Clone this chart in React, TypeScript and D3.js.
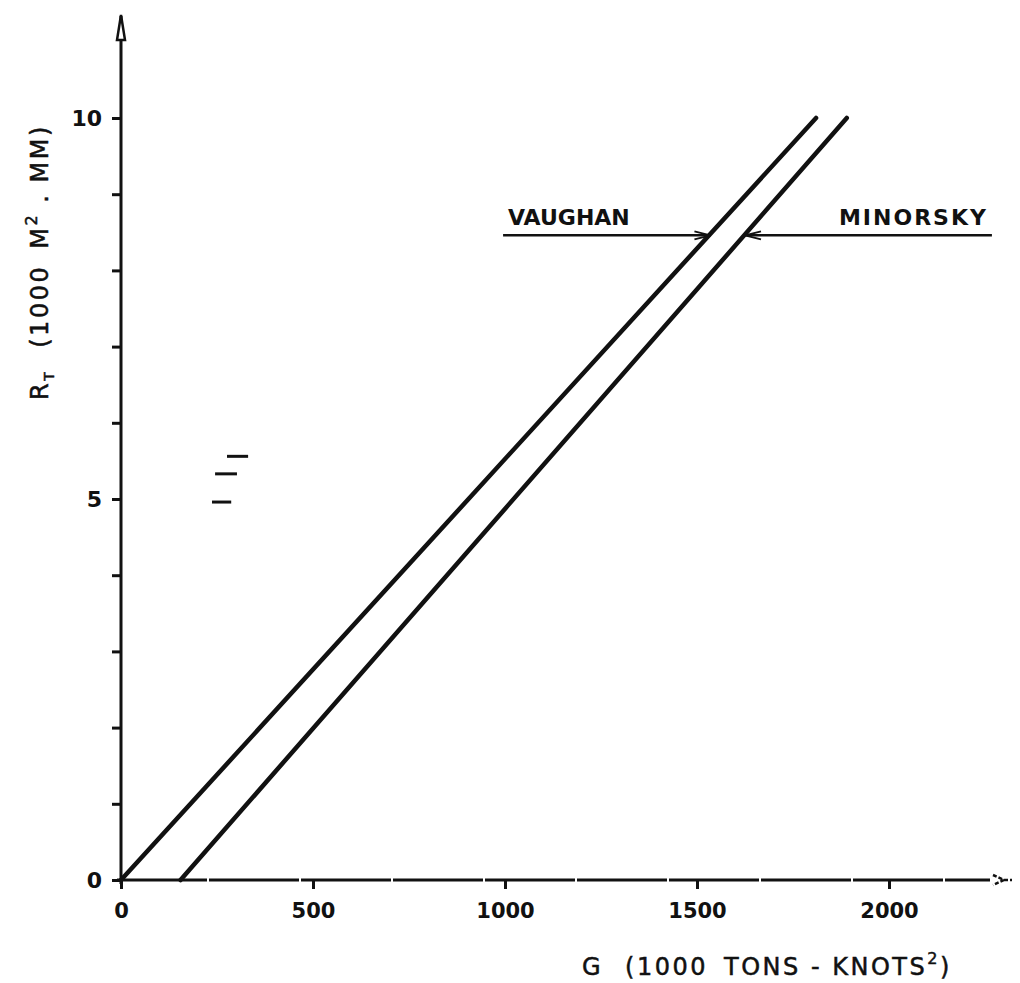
import React, { useEffect, useRef } from 'react';
import * as d3 from 'd3';

// tick values
const xTicks = [0, 500, 1000, 1500, 2000];
const yTicks = [0, 1, 2, 3, 4, 5, 6, 7, 8, 9, 10];
const yLabelled = [0, 5, 10];

// the two straight lines (G in 1000 tons-knots^2, R_T in 1000 m^2.mm)
const vaughanG = [0, 1810];
const vaughanR = [0, 10];
const minorskyG = [155, 1890];
const minorskyR = [0, 10];

// pointer lines for the labels
const pointerR = 8.46;
const vaughanPointer = [995, 1535];
const minorskyPointer = [1625, 2268];

// small stray marks near R = 5
const strayMarks = [
  { g0: 276, g1: 331, r: 5.56 },
  { g0: 245, g1: 302, r: 5.33 },
  { g0: 237, g1: 287, r: 4.96 },
];

const INK = '#111';
const FONT = '"DejaVu Sans", sans-serif';

const App: React.FC = () => {
  const svgRef = useRef<SVGSVGElement>(null);

  useEffect(() => {
    const svg = d3.select(svgRef.current);
    svg.selectAll('*').remove();

    const x = d3.scaleLinear().domain([0, 2000]).range([121, 889]);
    const y = d3.scaleLinear().domain([0, 10]).range([880, 118]);

    // x axis
    const xAxis = svg
      .append('g')
      .attr('transform', `translate(0, ${y(0)})`)
      .call(d3.axisBottom(x).tickValues(xTicks).tickSize(9).tickPadding(14).tickFormat(d3.format('d')));
    xAxis.select('.domain').remove();
    xAxis.selectAll('line').attr('stroke', INK).attr('stroke-width', 3);
    xAxis
      .selectAll('text')
      .attr('fill', INK)
      .attr('font-family', FONT)
      .attr('font-weight', 'bold')
      .attr('font-size', 21);

    // y axis
    const yAxis = svg
      .append('g')
      .attr('transform', `translate(${x(0)}, 0)`)
      .call(
        d3
          .axisLeft(y)
          .tickValues(yTicks)
          .tickSize(9)
          .tickPadding(10)
          .tickFormat((d) => (yLabelled.includes(d as number) ? String(d) : ''))
      );
    yAxis.select('.domain').remove();
    yAxis.selectAll('line').attr('stroke', INK).attr('stroke-width', 3);
    yAxis
      .selectAll('text')
      .attr('fill', INK)
      .attr('font-family', FONT)
      .attr('font-weight', 'bold')
      .attr('font-size', 22);

    // axis lines with arrows
    svg
      .append('line')
      .attr('x1', x(0))
      .attr('x2', x(0))
      .attr('y1', y(0) + 4)
      .attr('y2', 16)
      .attr('stroke', INK)
      .attr('stroke-width', 3);
    svg
      .append('path')
      .attr('d', `M${x(0) - 4},40 L${x(0)},15 L${x(0) + 4},40 Z`)
      .attr('fill', '#fff')
      .attr('stroke', INK)
      .attr('stroke-width', 2.5);

    svg
      .append('line')
      .attr('x1', x(0) - 4)
      .attr('x2', 990)
      .attr('y1', y(0))
      .attr('y2', y(0))
      .attr('stroke', INK)
      .attr('stroke-width', 3)
      .attr('stroke-dasharray', '90 2');
    svg
      .append('path')
      .attr('d', `M993,${y(0) - 5} L1004,${y(0)} L993,${y(0) + 5} M1004,${y(0)} L1012,${y(0)}`)
      .attr('fill', 'none')
      .attr('stroke', INK)
      .attr('stroke-width', 2.5)
      .attr('stroke-dasharray', '4 2');

    // the two lines
    const line = d3
      .line<[number, number]>()
      .x((d) => x(d[0]))
      .y((d) => y(d[1]));

    const series = [
      vaughanG.map((g, i) => [g, vaughanR[i]] as [number, number]),
      minorskyG.map((g, i) => [g, minorskyR[i]] as [number, number]),
    ];
    svg
      .selectAll('path.series')
      .data(series)
      .enter()
      .append('path')
      .attr('class', 'series')
      .attr('d', line)
      .attr('fill', 'none')
      .attr('stroke', INK)
      .attr('stroke-width', 4.5)
      .attr('stroke-linecap', 'round');

    // pointers
    const py = y(pointerR);
    svg
      .append('line')
      .attr('x1', x(vaughanPointer[0]))
      .attr('x2', x(vaughanPointer[1]))
      .attr('y1', py)
      .attr('y2', py)
      .attr('stroke', INK)
      .attr('stroke-width', 2.5);
    svg
      .append('path')
      .attr('d', `M${x(vaughanPointer[1]) - 16},${py - 4} L${x(vaughanPointer[1])},${py} L${x(vaughanPointer[1]) - 16},${py + 4}`)
      .attr('fill', 'none')
      .attr('stroke', INK)
      .attr('stroke-width', 2);
    svg
      .append('line')
      .attr('x1', x(minorskyPointer[0]))
      .attr('x2', x(minorskyPointer[1]))
      .attr('y1', py)
      .attr('y2', py)
      .attr('stroke', INK)
      .attr('stroke-width', 2.5);
    svg
      .append('path')
      .attr('d', `M${x(minorskyPointer[0]) + 16},${py - 4} L${x(minorskyPointer[0])},${py} L${x(minorskyPointer[0]) + 16},${py + 4}`)
      .attr('fill', 'none')
      .attr('stroke', INK)
      .attr('stroke-width', 2);

    svg
      .append('text')
      .attr('x', x(vaughanPointer[0]) + 5)
      .attr('y', py - 10)
      .attr('font-family', FONT)
      .attr('font-weight', 'bold')
      .attr('font-size', 22)
      .attr('fill', INK)
      .text('VAUGHAN');
    svg
      .append('text')
      .attr('x', x(minorskyPointer[1]) - 4)
      .attr('y', py - 10)
      .attr('text-anchor', 'end')
      .attr('font-family', FONT)
      .attr('font-weight', 'bold')
      .attr('font-size', 22)
      .attr('letter-spacing', 2)
      .attr('fill', INK)
      .text('MINORSKY');

    // stray marks
    svg
      .selectAll('line.stray')
      .data(strayMarks)
      .enter()
      .append('line')
      .attr('class', 'stray')
      .attr('x1', (d) => x(d.g0))
      .attr('x2', (d) => x(d.g1))
      .attr('y1', (d) => y(d.r))
      .attr('y2', (d) => y(d.r))
      .attr('stroke', INK)
      .attr('stroke-width', 3);

    // x title
    const xt = svg
      .append('text')
      .attr('x', 582)
      .attr('y', 975)
      .attr('font-family', FONT)
      .attr('font-size', 24)
      .attr('letter-spacing', 2.5)
      .attr('stroke', INK)
      .attr('stroke-width', 0.5)
      .attr('fill', INK);
    xt.append('tspan').text('G');
    xt.append('tspan').attr('dx', 22).text('(1000');
    xt.append('tspan').attr('dx', 16).text('TONS - KNOTS');
    xt.append('tspan').attr('dy', -11).attr('font-size', 16).text('2');
    xt.append('tspan').attr('dy', 11).text(')');

    // y title
    const yt = svg
      .append('text')
      .attr('transform', 'translate(48, 400) rotate(-90)')
      .attr('font-family', FONT)
      .attr('font-size', 24)
      .attr('letter-spacing', 2.5)
      .attr('stroke', INK)
      .attr('stroke-width', 0.5)
      .attr('fill', INK);
    yt.append('tspan').text('R');
    yt.append('tspan').attr('dy', 6).attr('font-size', 14).text('T');
    yt.append('tspan').attr('dy', -6).attr('dx', 22).text('(1000');
    yt.append('tspan').attr('dx', 16).text('M');
    yt.append('tspan').attr('dy', -11).attr('font-size', 16).text('2');
    yt.append('tspan').attr('dy', 11).text(' . MM)');
  }, []);

  return (
    <svg
      ref={svgRef}
      width={1020}
      height={983}
      style={{ position: 'absolute', left: 0, top: 0, background: '#fff' }}
    />
  );
};

export default App;
